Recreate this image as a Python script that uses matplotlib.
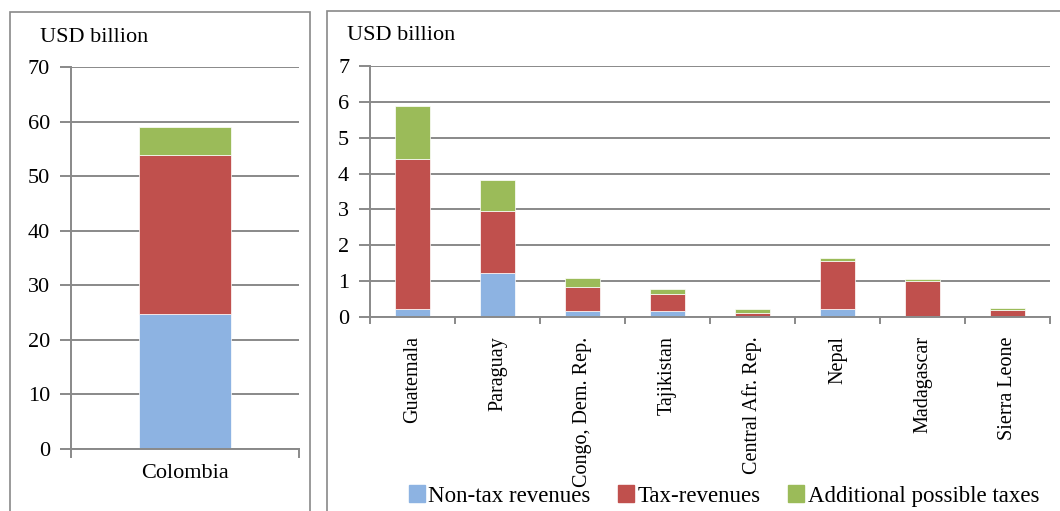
# Fiscal revenues and possible additional taxes, USD billion

import matplotlib.pyplot as plt
from matplotlib.patches import Rectangle, Patch
import numpy as np

# Data
big_country = ['Colombia']
big_nontax = [24.7]
big_tax = [29.2]
big_extra = [5.1]

countries = ['Guatemala', 'Paraguay', 'Congo, Dem. Rep.', 'Tajikistan',
             'Central Afr. Rep.', 'Nepal', 'Madagascar', 'Sierra Leone']
nontax = [0.21, 1.22, 0.18, 0.18, 0.02, 0.22, 0.02, 0.01]
tax = [4.19, 1.74, 0.67, 0.47, 0.09, 1.35, 0.98, 0.19]
extra = [1.48, 0.85, 0.24, 0.12, 0.10, 0.08, 0.06, 0.05]

left_ticks = [0, 10, 20, 30, 40, 50, 60, 70]
right_ticks = [0, 1, 2, 3, 4, 5, 6, 7]

# Format
plt.rcParams['font.family'] = ['Liberation Serif', 'DejaVu Serif']
blue = '#8DB3E2'
red = '#C0504D'
green = '#9BBB59'
grey = '#898989'
W, H = 1060, 511

fig = plt.figure(figsize=(W / 100, H / 100), dpi=100)

# panel frames
fig.patches.append(Rectangle((10 / W, -0.02), 300 / W, (H - 12) / H + 0.02,
                             transform=fig.transFigure, fill=False,
                             edgecolor=grey, linewidth=1.2))
fig.patches.append(Rectangle((327 / W, -0.02), 740 / W, (H - 11) / H + 0.02,
                             transform=fig.transFigure, fill=False,
                             edgecolor=grey, linewidth=1.2))


def style_axes(ax, ticks):
    ax.set_ylim(ticks[0], ticks[-1])
    ax.set_yticks(ticks)
    ax.yaxis.grid(True, color=grey, linewidth=1.4)
    ax.set_axisbelow(True)
    for s in ['top', 'right']:
        ax.spines[s].set_visible(False)
    for s in ['left', 'bottom']:
        ax.spines[s].set_color(grey)
        ax.spines[s].set_linewidth(1.4)
    ax.tick_params(axis='y', length=8, width=1.4, color=grey, labelsize=16, pad=7)
    ax.tick_params(axis='x', length=0)


# Plot data 1 - Colombia
ax1 = fig.add_axes([71 / W, (H - 449) / H, 228 / W, 382 / H])
x1 = np.arange(len(big_country))
b1 = np.array(big_nontax)
b2 = b1 + np.array(big_tax)
ax1.bar(x1, big_nontax, width=0.4, color=blue, edgecolor='white', linewidth=0.5)
ax1.bar(x1, big_tax, bottom=b1, width=0.4, color=red, edgecolor='white', linewidth=0.5)
ax1.bar(x1, big_extra, bottom=b2, width=0.4, color=green, edgecolor='white', linewidth=0.5)
ax1.set_xlim(-0.5, 0.5)
style_axes(ax1, left_ticks)
ax1.set_xticks(x1)
ax1.set_xticklabels(big_country)
ax1.tick_params(axis='x', pad=11, labelsize=16)
for xe in [-0.5, 0.5]:
    ax1.plot([xe, xe], [0, -1.4], color=grey, linewidth=1.4, clip_on=False)
fig.text(40 / W, (H - 38) / H, 'USD billion', fontsize=16, va='center')

# Plot data 2 - smaller countries
ax2 = fig.add_axes([370 / W, (H - 317) / H, 680 / W, 251 / H])
x2 = np.arange(len(countries))
s1 = np.array(nontax)
s2 = s1 + np.array(tax)
ax2.bar(x2, nontax, width=0.42, color=blue, edgecolor='white', linewidth=0.5)
ax2.bar(x2, tax, bottom=s1, width=0.42, color=red, edgecolor='white', linewidth=0.5)
ax2.bar(x2, extra, bottom=s2, width=0.42, color=green, edgecolor='white', linewidth=0.5)
ax2.set_xlim(-0.5, len(countries) - 0.5)
style_axes(ax2, right_ticks)
ax2.set_xticks(x2)
ax2.set_xticklabels(countries, rotation=90)
ax2.tick_params(axis='x', pad=14, labelsize=14.5)
for xe in np.arange(len(countries) + 1) - 0.5:
    ax2.plot([xe, xe], [0, -0.16], color=grey, linewidth=1.4, clip_on=False)
fig.text(347 / W, (H - 36) / H, 'USD billion', fontsize=16, va='center')

# Legend
handles = [Patch(color=blue, label='Non-tax revenues'),
           Patch(color=red, label='Tax-revenues'),
           Patch(color=green, label='Additional possible taxes')]
fig.legend(handles=handles, loc='center', bbox_to_anchor=(724 / W, (H - 496) / H),
           ncol=3, frameon=False, fontsize=16.5, handlelength=0.7,
           handleheight=0.7, handletextpad=0.15, columnspacing=1.2)

plt.savefig('out.png', dpi=100)
